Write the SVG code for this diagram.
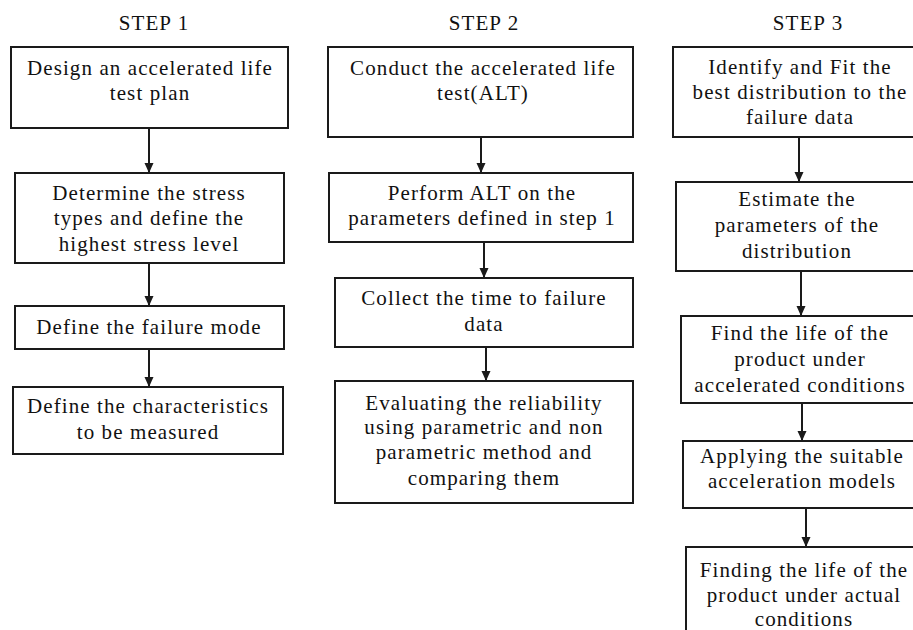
<svg xmlns="http://www.w3.org/2000/svg" width="913" height="630" viewBox="0 0 913 630">
<style>
.box{fill:#fff;stroke:#1a1a1a;stroke-width:2}
.t{font-family:"Liberation Serif","Times New Roman",serif;font-size:21px;fill:#111;text-anchor:middle;letter-spacing:1.1px}
.c{stroke:#1a1a1a;stroke-width:2;fill:none;marker-end:url(#ah)}
</style>
<defs>
<marker id="ah" markerUnits="userSpaceOnUse" markerWidth="10" markerHeight="10" refX="10" refY="5" orient="auto">
<path d="M0,0.5 L10,5 L0,9.5 z" fill="#1a1a1a"/>
</marker>
</defs>
<rect width="913" height="630" fill="#fff"/>
<g id="titles">
<text class="t" x="154" y="30">STEP 1</text>
<text class="t" x="484" y="30">STEP 2</text>
<text class="t" x="808" y="30">STEP 3</text>
</g>
<g id="connectors">
<line class="c" x1="149" y1="128" x2="149" y2="173"/>
<line class="c" x1="149" y1="263" x2="149" y2="306"/>
<line class="c" x1="149" y1="349" x2="149" y2="387"/>
<line class="c" x1="481" y1="137" x2="481" y2="173"/>
<line class="c" x1="484" y1="242" x2="484" y2="278"/>
<line class="c" x1="486" y1="347" x2="486" y2="381"/>
<line class="c" x1="799" y1="137" x2="799" y2="182"/>
<line class="c" x1="801" y1="271" x2="801" y2="316"/>
<line class="c" x1="802" y1="403" x2="802" y2="441"/>
<line class="c" x1="806" y1="508" x2="806" y2="547"/>
</g>
<g id="s1b1"><rect class="box" x="11" y="47" width="277" height="81"/>
<text class="t" x="150" y="75">Design an accelerated life</text>
<text class="t" x="150" y="100">test plan</text></g>
<g id="s1b2"><rect class="box" x="15" y="173" width="269" height="90"/>
<text class="t" x="149" y="200">Determine the stress</text>
<text class="t" x="149" y="225">types and define the</text>
<text class="t" x="149" y="251">highest stress level</text></g>
<g id="s1b3"><rect class="box" x="15" y="306" width="269" height="43"/>
<text class="t" x="149" y="334">Define the failure mode</text></g>
<g id="s1b4"><rect class="box" x="13" y="387" width="270" height="67"/>
<text class="t" x="148" y="413">Define the characteristics</text>
<text class="t" x="148" y="439">to be measured</text></g>
<g id="s2b1"><rect class="box" x="328" y="47" width="305" height="90"/>
<text class="t" x="483" y="75">Conduct the accelerated life</text>
<text class="t" x="483" y="100">test(ALT)</text></g>
<g id="s2b2"><rect class="box" x="329" y="173" width="304" height="69"/>
<text class="t" x="482" y="200">Perform ALT on the</text>
<text class="t" x="482" y="225">parameters defined in step 1</text></g>
<g id="s2b3"><rect class="box" x="335" y="278" width="298" height="69"/>
<text class="t" x="484" y="305">Collect the time to failure</text>
<text class="t" x="484" y="331">data</text></g>
<g id="s2b4"><rect class="box" x="335" y="381" width="298" height="122"/>
<text class="t" x="484" y="410">Evaluating the reliability</text>
<text class="t" x="484" y="434">using parametric and non</text>
<text class="t" x="484" y="459">parametric method and</text>
<text class="t" x="484" y="485">comparing them</text></g>
<g id="s3b1"><rect class="box" x="673" y="47" width="250" height="90"/>
<text class="t" x="800" y="74">Identify and Fit the</text>
<text class="t" x="800" y="99">best distribution to the</text>
<text class="t" x="800" y="124">failure data</text></g>
<g id="s3b2"><rect class="box" x="676" y="182" width="250" height="89"/>
<text class="t" x="797" y="206">Estimate the</text>
<text class="t" x="797" y="232">parameters of the</text>
<text class="t" x="797" y="258">distribution</text></g>
<g id="s3b3"><rect class="box" x="681" y="316" width="250" height="87"/>
<text class="t" x="800" y="340">Find the life of the</text>
<text class="t" x="800" y="366">product under</text>
<text class="t" x="800" y="392">accelerated conditions</text></g>
<g id="s3b4"><rect class="box" x="683" y="441" width="250" height="67"/>
<text class="t" x="802" y="463">Applying the suitable</text>
<text class="t" x="802" y="488">acceleration models</text></g>
<g id="s3b5"><rect class="box" x="686" y="547" width="250" height="100"/>
<text class="t" x="804" y="577">Finding the life of the</text>
<text class="t" x="804" y="602">product under actual</text>
<text class="t" x="804" y="626">conditions</text></g>
</svg>
